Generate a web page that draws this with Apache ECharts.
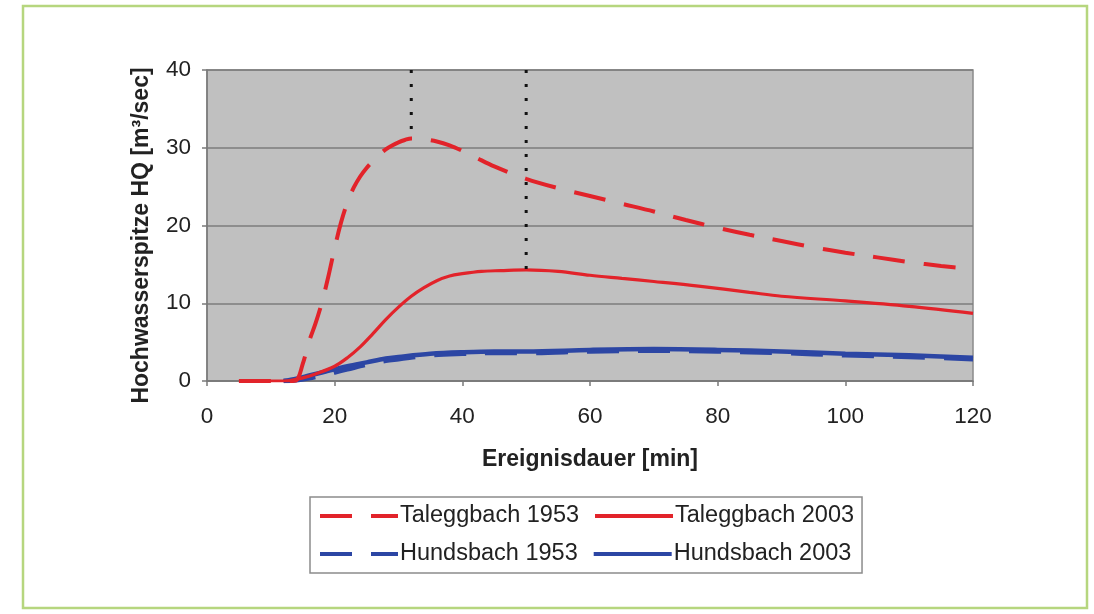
<!DOCTYPE html>
<html><head><meta charset="utf-8">
<script src="https://cdn.jsdelivr.net/npm/echarts@6/dist/echarts.min.js"></script>
<style>html,body{margin:0;padding:0;background:#fff;}#c{width:1094px;height:614px;}</style>
</head><body><div id="c"></div>
<script>
// ---- data ----
const seriesNames = ['Taleggbach 1953', 'Taleggbach 2003', 'Hundsbach 1953', 'Hundsbach 2003'];

const tal1953X = [5, 13, 14, 15, 16, 17, 18, 19, 20, 21, 22, 23, 24, 25, 26, 27, 28, 29, 30, 31, 32, 33, 34, 36, 38, 40, 42, 45, 50, 55, 60, 65, 70, 75, 80, 85, 90, 95, 100, 105, 110, 115, 120];
const tal1953Y = [0, 0, 0.1, 2.2, 5.1, 7.4, 10.1, 13.4, 17.1, 20.4, 23.0, 24.9, 26.3, 27.4, 28.3, 29.1, 29.8, 30.3, 30.7, 31.0, 31.2, 31.2, 31.1, 30.8, 30.3, 29.6, 28.8, 27.6, 26.0, 24.8, 23.8, 22.8, 21.8, 20.7, 19.7, 18.8, 18.0, 17.2, 16.5, 15.9, 15.3, 14.8, 14.4];

const tal2003X = [5, 12, 13, 15, 17, 20, 22, 24, 26, 28, 30, 32, 34, 36, 38, 40, 43, 46, 50, 55, 60, 65, 70, 77, 85, 90, 100, 110, 120];
const tal2003Y = [0, 0, 0.05, 0.4, 0.9, 1.9, 3.0, 4.4, 6.1, 7.9, 9.5, 10.9, 12.0, 12.9, 13.5, 13.8, 14.1, 14.2, 14.3, 14.1, 13.6, 13.2, 12.8, 12.2, 11.4, 10.9, 10.3, 9.6, 8.7];

const hunX = [12, 14, 16, 18, 20, 22, 25, 28, 30, 35, 40, 45, 50, 60, 70, 80, 90, 100, 110, 120];
const hun1953Y = [0, 0.1, 0.35, 0.7, 1.1, 1.5, 2.1, 2.6, 2.8, 3.3, 3.5, 3.6, 3.6, 3.8, 3.9, 3.8, 3.6, 3.3, 3.1, 2.8];
const hun2003Y = [0, 0.3, 0.7, 1.1, 1.5, 1.9, 2.4, 2.9, 3.1, 3.5, 3.7, 3.8, 3.8, 4.0, 4.1, 4.0, 3.8, 3.5, 3.3, 3.0];

// peak markers (dotted verticals from top of axis down to the peaks)
const peakX = [32, 50];
const peakY = [31.2, 14.3];
const yTop = 40;

const xTickMin = 0, xTickMax = 120, xTickStep = 20;
const yTickMin = 0, yTickMax = 40, yTickStep = 10;

// ---- build ----
const zip = (xs, ys) => xs.map((x, i) => [x, ys[i]]);
const RED = '#e2232a', BLUE = '#2c46a4';
const FONT = '"Liberation Sans", Arial, sans-serif';
const DASH = [32, 19];
const SM = 0.35;

const series = [
  { name: seriesNames[3], type: 'line', data: zip(hunX, hun2003Y), showSymbol: false, symbol: 'none', smooth: SM,
    lineStyle: { color: BLUE, width: 4.5, type: 'solid' }, itemStyle: { color: BLUE }, z: 2 },
  { name: seriesNames[2], type: 'line', data: zip(hunX, hun1953Y), showSymbol: false, symbol: 'none', smooth: SM,
    lineStyle: { color: BLUE, width: 4.5, type: DASH, cap: 'butt' }, itemStyle: { color: BLUE }, z: 3 },
  { name: seriesNames[1], type: 'line', data: zip(tal2003X, tal2003Y), showSymbol: false, symbol: 'none', smooth: SM,
    lineStyle: { color: RED, width: 3.2, type: 'solid' }, itemStyle: { color: RED }, z: 4 },
  { name: seriesNames[0], type: 'line', data: zip(tal1953X, tal1953Y), showSymbol: false, symbol: 'none', smooth: SM,
    lineStyle: { color: RED, width: 4, type: DASH, cap: 'butt' }, itemStyle: { color: RED }, z: 5 }
];
peakX.forEach((px, i) => {
  series.push({ name: 'peak' + i, type: 'line', data: [[px, yTop], [px, peakY[i]]], symbol: 'none', silent: true,
    lineStyle: { color: '#111', width: 3, type: [3, 11], cap: 'butt' }, z: 6 });
});

const chart = echarts.init(document.getElementById('c'), null, { renderer: 'canvas' });
chart.setOption({
  backgroundColor: '#ffffff',
  animation: false,
  textStyle: { fontFamily: FONT },
  graphic: [{
    type: 'rect', shape: { x: 23, y: 6, width: 1064, height: 602 },
    style: { fill: 'none', stroke: '#b6d67e', lineWidth: 2.5 }, z: -10, silent: true
  }],
  grid: { left: 207, right: 121, top: 70, bottom: 233, show: true, backgroundColor: '#c0c0c0', borderColor: '#8a8a8a', borderWidth: 1.5 },
  legend: {
    data: [
      { name: seriesNames[0], lineStyle: { type: DASH, width: 4 } },
      { name: seriesNames[1], lineStyle: { width: 4 } },
      { name: seriesNames[2], lineStyle: { type: DASH, width: 4 } },
      { name: seriesNames[3], lineStyle: { width: 4 } }
    ],
    left: 310, top: 497, width: 560,
    orient: 'horizontal', itemWidth: 78, itemHeight: 14, itemGap: 14,
    padding: [7, 8, 7, 8],
    itemStyle: { opacity: 0 },
    borderColor: '#8c8c8c', borderWidth: 1.5, backgroundColor: '#ffffff',
    textStyle: { fontSize: 23.5, color: '#222', fontFamily: FONT, padding: [0, 0, 0, -3] }
  },
  xAxis: {
    type: 'value', min: xTickMin, max: xTickMax, interval: xTickStep,
    name: 'Ereignisdauer [min]', nameLocation: 'middle', nameGap: 67,
    nameTextStyle: { fontSize: 23, fontWeight: 'bold', color: '#222', fontFamily: FONT },
    axisLine: { show: true, lineStyle: { color: '#7a7a7a', width: 1.5 } },
    axisTick: { show: true, inside: false, length: 5, lineStyle: { color: '#7a7a7a', width: 1.5 } },
    axisLabel: { fontSize: 22.5, color: '#222', margin: 24, fontFamily: FONT },
    splitLine: { show: false }
  },
  yAxis: {
    type: 'value', min: yTickMin, max: yTickMax, interval: yTickStep,
    name: 'Hochwasserspitze HQ [m³/sec]', nameLocation: 'middle', nameGap: 54, nameRotate: 90,
    nameTextStyle: { fontSize: 23, fontWeight: 'bold', color: '#222', fontFamily: FONT, padding: [0, 0, 0, -20] },
    axisLine: { show: true, lineStyle: { color: '#7a7a7a', width: 1.5 } },
    axisTick: { show: true, inside: false, length: 5, lineStyle: { color: '#7a7a7a', width: 1.5 } },
    axisLabel: { fontSize: 22.5, color: '#222', margin: 16, fontFamily: FONT },
    splitLine: { show: true, lineStyle: { color: '#7c7c7c', width: 1.5 } }
  },
  series: series
});
</script>
</body></html>
